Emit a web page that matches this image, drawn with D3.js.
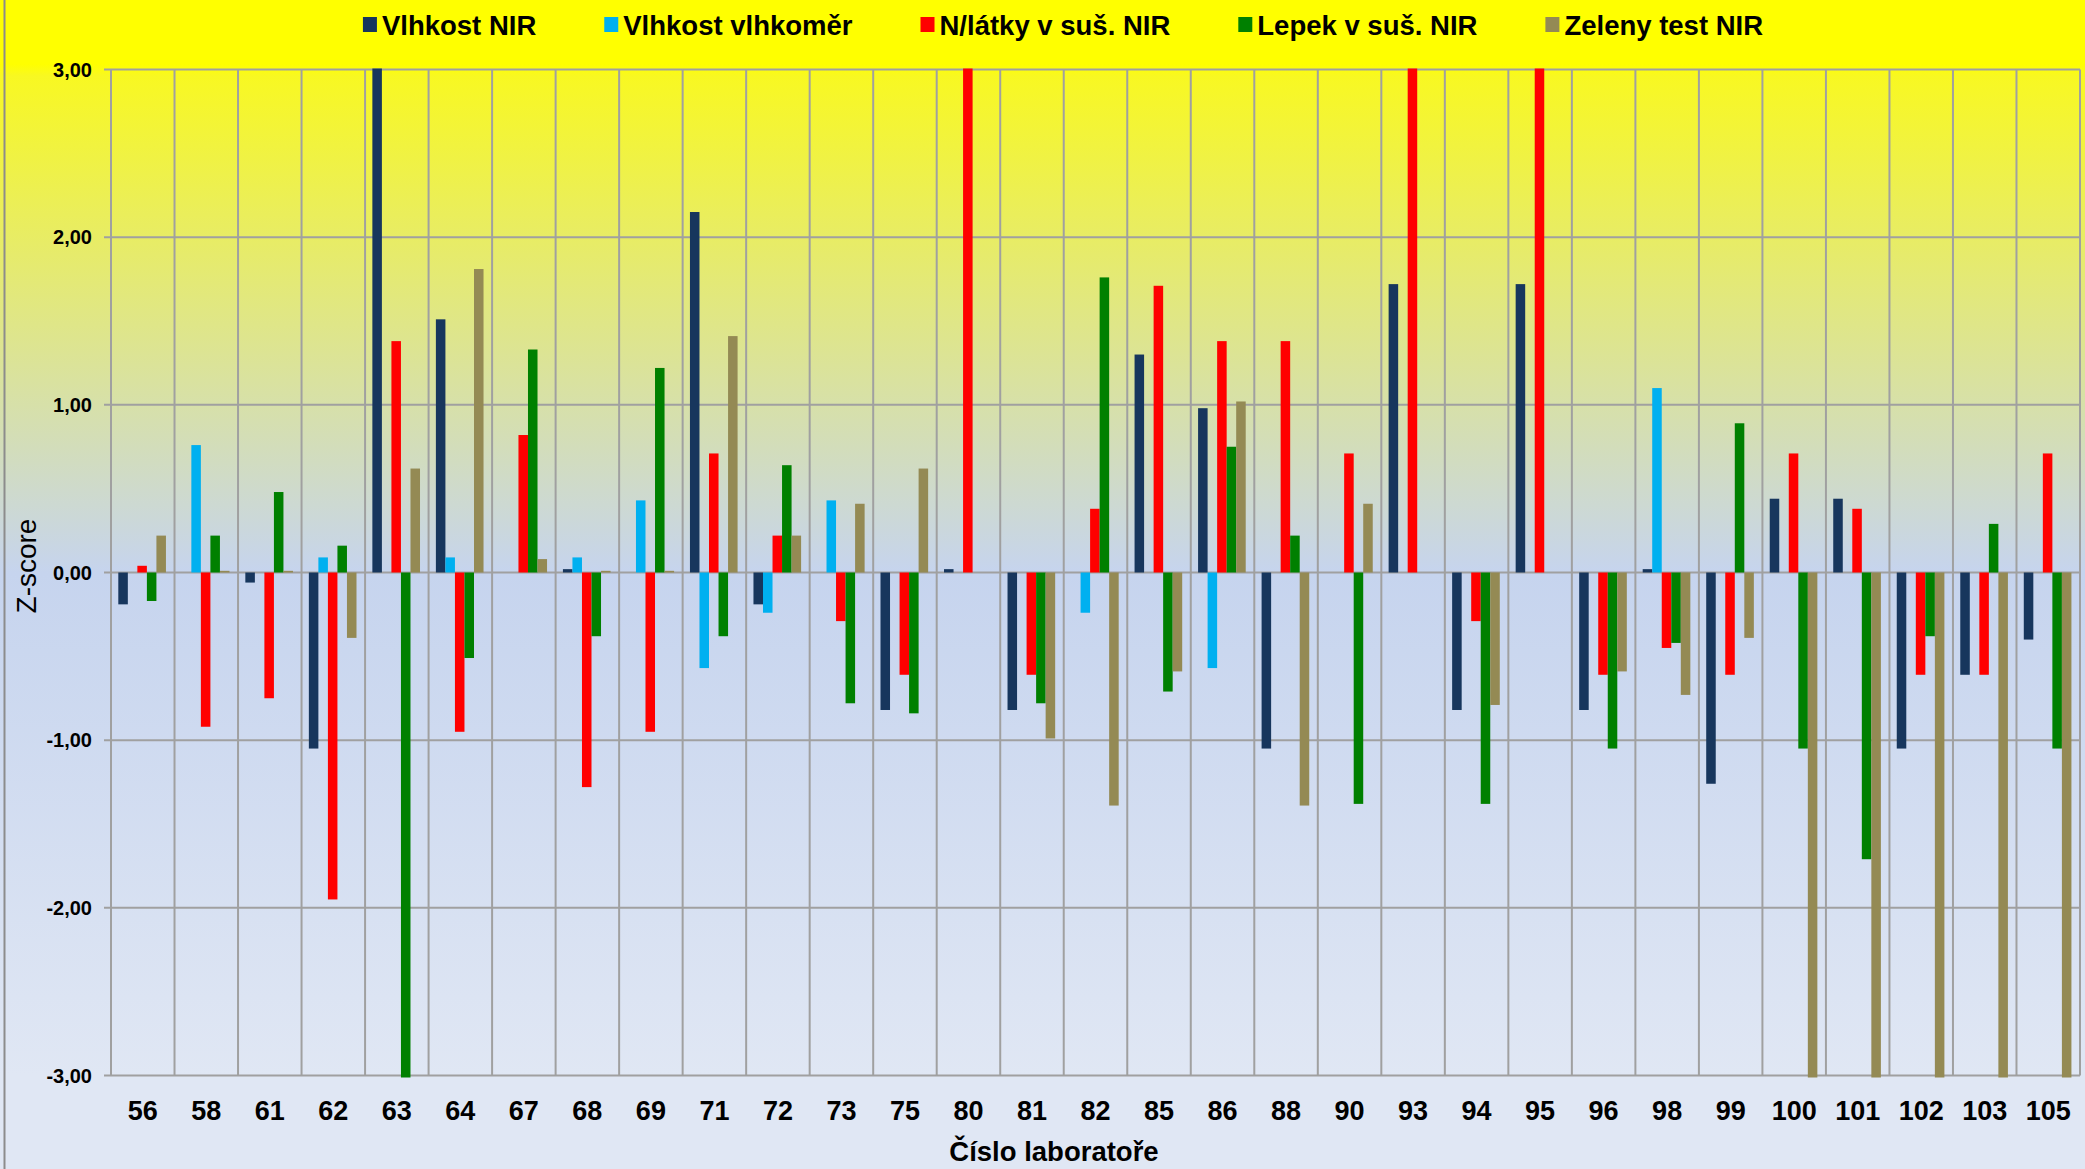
<!DOCTYPE html>
<html>
<head>
<meta charset="utf-8">
<script src="https://cdn.jsdelivr.net/npm/d3@7"></script>
<style>
  body { margin: 0; background: #fff; }
  svg { display: block; font-family: "Liberation Sans", Arial, sans-serif; }
</style>
</head>
<body>
<svg id="chart"></svg>
<script>
// lab numbers on the x axis
const labs = ["56", "58", "61", "62", "63", "64", "67", "68", "69", "71", "72", "73", "75", "80", "81",
  "82", "85", "86", "88", "90", "93", "94", "95", "96", "98", "99", "100", "101", "102", "103", "105"];

const seriesNames = ["Vlhkost NIR", "Vlhkost vlhkoměr", "N/látky v suš. NIR", "Lepek v suš. NIR", "Zeleny test NIR"];
const seriesColors = ["#17365d", "#00b0f0", "#ff0000", "#008000", "#948a54"];

// z-score values per lab (values beyond +-3 are cut off by the plot)
const vlhkostNIR = [-0.19, 0, -0.06, -1.05, 3.5, 1.51, 0, 0.02, 0, 2.15, -0.19, 0, -0.82, 0.02, -0.82,
  0, 1.30, 0.98, -1.05, 0, 1.72, -0.82, 1.72, -0.82, 0.02, -1.26, 0.44, 0.44, -1.05, -0.61, -0.40];
const vlhkostVlhkomer = [0, 0.76, 0, 0.09, 0, 0.09, 0, 0.09, 0.43, -0.57, -0.24, 0.43, 0, 0, 0,
  -0.24, 0, -0.57, 0, 0, 0, 0, 0, 0, 1.10, 0, 0, 0, 0, 0, 0];
const nLatky = [0.04, -0.92, -0.75, -1.95, 1.38, -0.95, 0.82, -1.28, -0.95, 0.71, 0.22, -0.29, -0.61, 3.5, -0.61,
  0.38, 1.71, 1.38, 1.38, 0.71, 3.5, -0.29, 3.5, -0.61, -0.45, -0.61, 0.71, 0.38, -0.61, -0.61, 0.71];
const lepek = [-0.17, 0.22, 0.48, 0.16, -3.5, -0.51, 1.33, -0.38, 1.22, -0.38, 0.64, -0.78, -0.84, 0, -0.78,
  1.76, -0.71, 0.75, 0.22, -1.38, 0, -1.38, 0, -1.05, -0.42, 0.89, -1.05, -1.71, -0.38, 0.29, -1.05];
const zelenyTest = [0.22, 0.01, 0.01, -0.39, 0.62, 1.81, 0.08, 0.01, 0.01, 1.41, 0.22, 0.41, 0.62, 0, -0.99,
  -1.39, -0.59, 1.02, -1.39, 0.41, 0, -0.79, 0, -0.59, -0.73, -0.39, -3.5, -3.5, -3.5, -3.5, -3.5];

const yTicks = [3, 2, 1, 0, -1, -2, -3];

const W = 2085, H = 1169;
const plot = { left: 111, right: 2080, top: 69.5, bottom: 1075.5 };

const svg = d3.select("#chart").attr("width", W).attr("height", H);
const defs = svg.append("defs");

const grad = defs.append("linearGradient")
  .attr("id", "bg").attr("gradientUnits", "userSpaceOnUse")
  .attr("x1", 0).attr("y1", 0).attr("x2", 0).attr("y2", H);
[[0, "#ffff00"], [0.055, "#ffff00"], [0.065, "#f8f822"], [0.49, "#c6d4ee"], [0.92, "#e0e7f4"], [1, "#e0e7f4"]]
  .forEach(([o, c]) => grad.append("stop").attr("offset", o).attr("stop-color", c));

defs.append("clipPath").attr("id", "plotClip").append("rect")
  .attr("x", plot.left).attr("y", plot.top - 1)
  .attr("width", plot.right - plot.left).attr("height", plot.bottom - plot.top + 3);

svg.append("rect").attr("width", W).attr("height", H).attr("fill", "url(#bg)");
svg.append("line").attr("x1", 4.5).attr("x2", 4.5).attr("y1", 0).attr("y2", H)
  .attr("stroke", "#8c8c8c").attr("stroke-width", 2);

const x0 = d3.scaleBand().domain(labs).range([plot.left, plot.right]);
const x1 = d3.scaleBand().domain(seriesNames)
  .range([x0.bandwidth() * 0.115, x0.bandwidth() * 0.865]);
const y = d3.scaleLinear().domain([-3, 3]).range([plot.bottom, plot.top]);

// grid
const grid = svg.append("g").attr("stroke", "#a0a0a0").attr("stroke-width", 2);
grid.selectAll("line.h").data(yTicks).join("line")
  .attr("x1", plot.left - 7).attr("x2", plot.right)
  .attr("y1", d => y(d)).attr("y2", d => y(d));
grid.selectAll("line.v").data(labs.concat(["end"])).join("line")
  .attr("x1", (d, i) => i < labs.length ? x0(d) : plot.right)
  .attr("x2", (d, i) => i < labs.length ? x0(d) : plot.right)
  .attr("y1", plot.top).attr("y2", plot.bottom);

// bars
const allSeries = [vlhkostNIR, vlhkostVlhkomer, nLatky, lepek, zelenyTest];
const rows = [];
labs.forEach((lab, i) => {
  seriesNames.forEach((s, j) => {
    rows.push({ lab, s, v: allSeries[j][i], c: seriesColors[j] });
  });
});

svg.append("g").attr("clip-path", "url(#plotClip)")
  .selectAll("rect").data(rows.filter(d => d.v !== 0)).join("rect")
  .attr("x", d => x0(d.lab) + x1(d.s))
  .attr("width", x1.bandwidth())
  .attr("y", d => y(Math.max(0, d.v)))
  .attr("height", d => Math.abs(y(d.v) - y(0)))
  .attr("fill", d => d.c);

// y axis labels
const fmt = v => v.toFixed(2).replace(".", ",");
svg.append("g").selectAll("text").data(yTicks).join("text")
  .attr("x", 92).attr("y", d => y(d)).attr("dy", "0.36em")
  .attr("text-anchor", "end")
  .attr("font-size", 20).attr("font-weight", "bold").attr("fill", "#000")
  .text(fmt);

// x axis labels
svg.append("g").selectAll("text").data(labs).join("text")
  .attr("x", d => x0(d) + x0.bandwidth() / 2).attr("y", 1120)
  .attr("text-anchor", "middle")
  .attr("font-size", 27).attr("font-weight", "bold").attr("fill", "#000")
  .text(d => d);

svg.append("text").attr("x", 1054).attr("y", 1161)
  .attr("text-anchor", "middle").attr("font-size", 27.5).attr("font-weight", "bold")
  .text("Číslo laboratoře");

svg.append("text")
  .attr("transform", "translate(36,566) rotate(-90)")
  .attr("text-anchor", "middle").attr("font-size", 28)
  .text("Z-score");

// legend
const legend = svg.append("g");
let lx = 0;
seriesNames.forEach((name, i) => {
  const g = legend.append("g").attr("transform", `translate(${lx},0)`);
  g.append("rect").attr("x", 0).attr("y", 17).attr("width", 14).attr("height", 15)
    .attr("fill", seriesColors[i]);
  const t = g.append("text").attr("x", 19).attr("y", 34.5)
    .attr("font-size", 27.5).attr("font-weight", "bold").text(name);
  lx += 19 + t.node().getComputedTextLength() + 68;
});
const legendW = lx - 68;
legend.attr("transform", `translate(${1063 - legendW / 2},0)`);
</script>
</body>
</html>
